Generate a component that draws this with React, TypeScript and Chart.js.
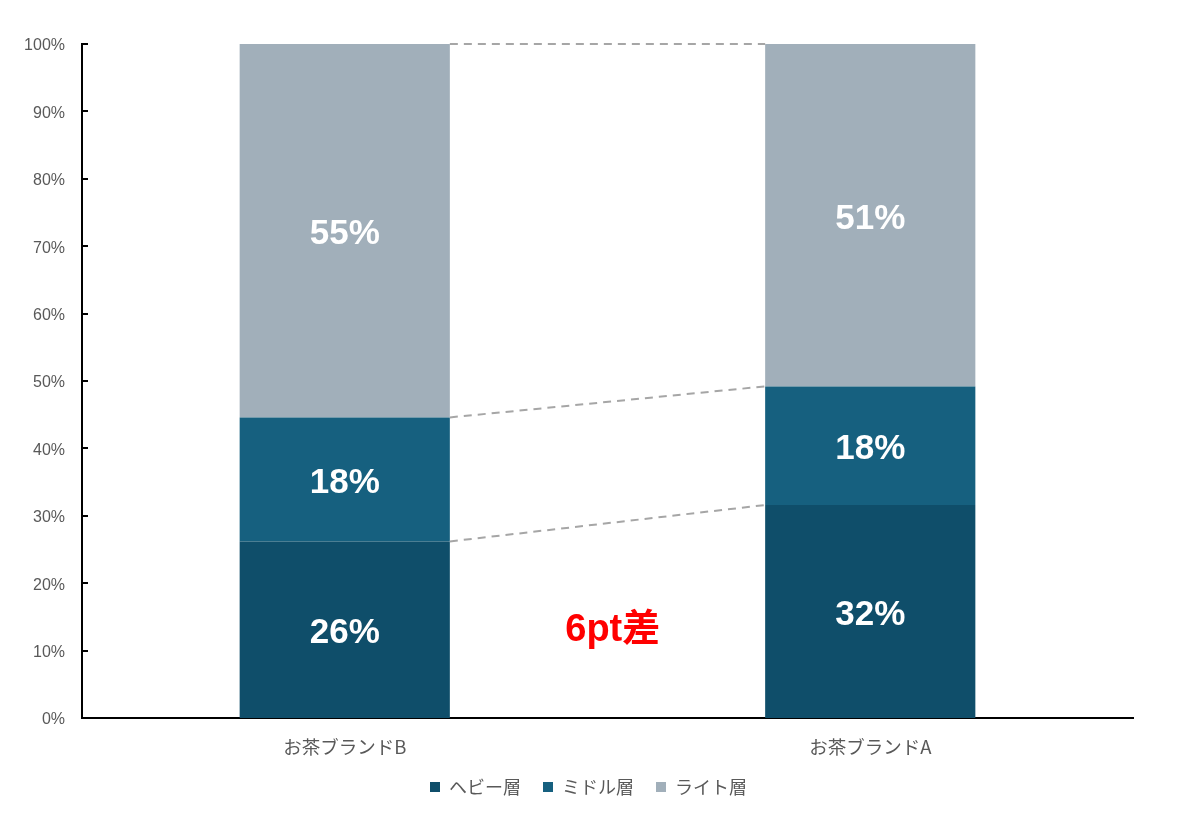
import React, { useEffect, useRef } from "react";
import { Chart, registerables } from "chart.js";

Chart.register(...registerables);

const categories = ["お茶ブランドB", "お茶ブランドA"];
const seriesNames = ["ヘビー層", "ミドル層", "ライト層"];
const heavy = [26.2, 31.6];
const middle = [18.4, 17.6];
const light = [55.4, 50.8];
const seriesColors = ["#0f4e6a", "#16607f", "#a1afba"];
const yTicks = [0, 10, 20, 30, 40, 50, 60, 70, 80, 90, 100];
const diffText = "6pt差";
const diffPosition = [0.51, 13.5]; // [category index, value]

const FONT = "'Liberation Sans', Arial, 'Noto Sans CJK JP', sans-serif";
const CJK = "'Noto Sans CJK JP', 'Liberation Sans', sans-serif";

const overlayPlugin = {
  id: "overlay",
  afterDatasetsDraw(chart: any) {
    const { ctx, scales } = chart;
    const x = scales.x;
    const y = scales.y;
    const area = chart.chartArea;
    ctx.save();
    // inward ticks on y axis
    ctx.strokeStyle = "#000";
    ctx.lineWidth = 2;
    yTicks.forEach((v) => {
      const py = Math.round(y.getPixelForValue(v));
      ctx.beginPath();
      ctx.moveTo(area.left, py);
      ctx.lineTo(area.left + 6, py);
      ctx.stroke();
    });
    // dashed connectors
    ctx.strokeStyle = "#a6a6a6";
    ctx.lineWidth = 2;
    ctx.setLineDash([8, 6]);
    chart.data.datasets.forEach((_d: any, i: number) => {
      const meta = chart.getDatasetMeta(i);
      const b0 = meta.data[0];
      const b1 = meta.data[1];
      if (!b0 || !b1) return;
      ctx.beginPath();
      ctx.moveTo(b0.x + b0.width / 2, b0.y);
      ctx.lineTo(b1.x - b1.width / 2, b1.y);
      ctx.stroke();
    });
    ctx.setLineDash([]);
    // value labels
    ctx.fillStyle = "#ffffff";
    ctx.font = `bold 35px ${FONT}`;
    ctx.textAlign = "center";
    ctx.textBaseline = "middle";
    chart.data.datasets.forEach((d: any, i: number) => {
      const meta = chart.getDatasetMeta(i);
      meta.data.forEach((bar: any, j: number) => {
        const cy = (bar.y + bar.base) / 2;
        ctx.fillText(Math.round(d.data[j]) + "%", bar.x, cy + 4);
      });
    });
    // diff annotation
    ctx.fillStyle = "#ff0000";
    ctx.font = `bold 38px ${FONT}`;
    ctx.fillText(diffText, x.getPixelForValue(diffPosition[0]), y.getPixelForValue(diffPosition[1]) + 4);
    ctx.restore();
  },
};

export default function App() {
  const ref = useRef<HTMLCanvasElement>(null);
  useEffect(() => {
    if (!ref.current) return;
    const chart = new Chart(ref.current, {
      type: "bar",
      data: {
        labels: categories,
        datasets: [heavy, middle, light].map((data, i) => ({
          label: seriesNames[i],
          data,
          backgroundColor: seriesColors[i],
          borderWidth: 0,
          categoryPercentage: 1,
          barPercentage: 0.4,
          yAxisID: "y",
        })),
      },
      options: {
        responsive: true,
        maintainAspectRatio: false,
        animation: false,
        layout: { padding: { left: 0, right: 0, top: 44, bottom: 26 } },
        plugins: {
          tooltip: { enabled: false },
          legend: {
            position: "bottom",
            labels: {
              boxWidth: 10,
              boxHeight: 10,
              padding: 22,
              color: "#595959",
              font: { family: CJK, size: 18 },
            },
          },
        },
        scales: {
          x: {
            stacked: true,
            grid: { display: false, drawTicks: false },
            border: { display: true, color: "#000", width: 2 },
            ticks: { color: "#595959", font: { family: CJK, size: 18.5 }, padding: 18 },
            afterFit: (s: any) => {
              s.height = 38;
            },
          },
          y: {
            stacked: true,
            min: 0,
            max: 100,
            grid: { display: false, drawTicks: false },
            border: { display: true, color: "#000", width: 2 },
            ticks: {
              stepSize: 10,
              color: "#595959",
              font: { family: FONT, size: 16 },
              padding: 17,
              labelOffset: 2,
              callback: (v: any) => v + "%",
            },
            afterFit: (s: any) => {
              s.width = 82;
            },
          },
          yRight: {
            type: "linear",
            position: "right",
            min: 0,
            max: 100,
            grid: { display: false, drawTicks: false },
            border: { display: false },
            ticks: { display: false },
            afterFit: (s: any) => {
              s.width = 44;
            },
          },
        },
      },
      plugins: [overlayPlugin],
    });
    return () => chart.destroy();
  }, []);
  return (
    <div style={{ position: "absolute", left: 0, top: 0, width: 1177, height: 832, background: "#fff" }}>
      <canvas ref={ref} />
    </div>
  );
}
